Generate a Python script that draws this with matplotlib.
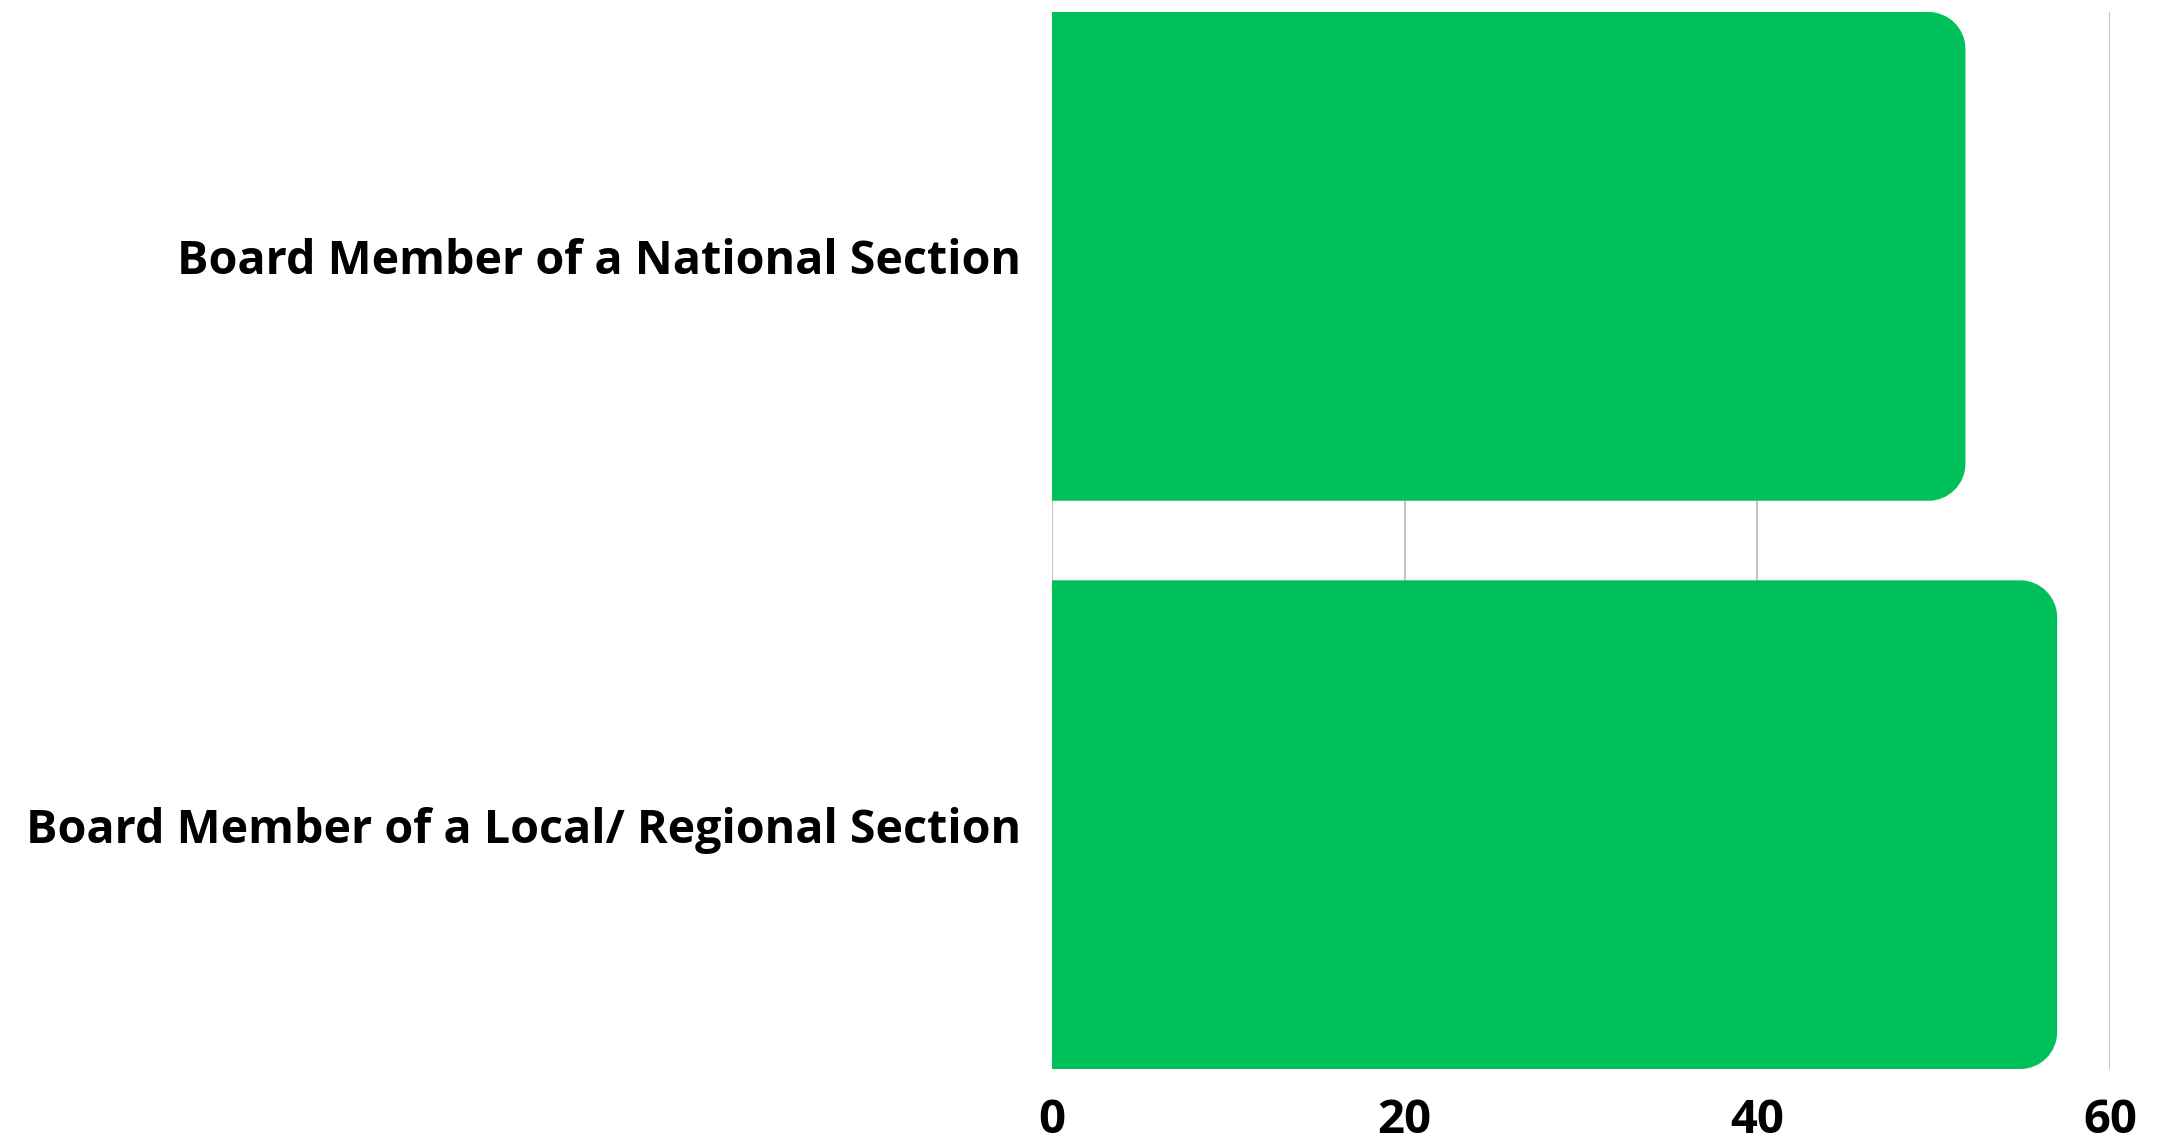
import matplotlib
matplotlib.use("Agg")
import matplotlib.pyplot as plt
from matplotlib.path import Path
from matplotlib.patches import PathPatch

# data
categorias = ["Board Member of a National Section",
              "Board Member of a Local/ Regional Section"]
valores = [51.8, 57.0]
ticks_x = [0, 20, 40, 60]

verde = "#00C159"
cinza = "#c4c4c4"

plt.rcParams['font.family'] = ['Open Sans', 'DejaVu Sans']

fig = plt.figure(figsize=(21.78, 11.43), dpi=100)
ax = fig.add_axes([0.4830, 0.0647, 0.9688 - 0.4830, 0.9895 - 0.0647])

posicoes = list(range(len(categorias)))
barras = ax.barh(posicoes, valores, height=0.86, color=verde, zorder=2)

ax.set_xlim(0, 60)
ax.set_ylim(len(categorias) - 1 + 0.43, -0.43)


def arredondar(ret, raio_px=37):
    # troca o retangulo por um com os cantos da direita arredondados
    x0, y0 = ret.get_x(), ret.get_y()
    x1, y1 = x0 + ret.get_width(), y0 + ret.get_height()
    bb = ax.get_window_extent()
    rx = raio_px * 60 / bb.width
    ry = raio_px * (ax.get_ylim()[0] - ax.get_ylim()[1]) / bb.height
    k = 0.5523
    ya, yb = min(y0, y1), max(y0, y1)
    verts = [
        (x0, ya),
        (x1 - rx, ya),
        (x1 - rx + k * rx, ya), (x1, ya + ry - k * ry), (x1, ya + ry),
        (x1, yb - ry),
        (x1, yb - ry + k * ry), (x1 - rx + k * rx, yb), (x1 - rx, yb),
        (x0, yb),
        (x0, ya),
    ]
    codes = [Path.MOVETO, Path.LINETO,
             Path.CURVE4, Path.CURVE4, Path.CURVE4,
             Path.LINETO,
             Path.CURVE4, Path.CURVE4, Path.CURVE4,
             Path.LINETO, Path.CLOSEPOLY]
    patch = PathPatch(Path(verts, codes), facecolor=ret.get_facecolor(),
                      edgecolor='none', zorder=2)
    ret.remove()
    ax.add_patch(patch)


for b in list(barras):
    arredondar(b)

ax.set_xticks(ticks_x)
ax.set_xticklabels([str(t) for t in ticks_x], fontsize=34, fontweight='bold')
ax.set_yticks(posicoes)
ax.set_yticklabels(categorias, fontsize=33.6, fontweight='bold')
ax.tick_params(axis='both', length=0)
ax.tick_params(axis='x', pad=20)
ax.tick_params(axis='y', pad=22)

ax.grid(True, axis='x', color=cinza, linewidth=1.5, zorder=0)
ax.set_axisbelow(True)
for s in ax.spines.values():
    s.set_visible(False)

fig.savefig("out.png", dpi=100, facecolor="white")
